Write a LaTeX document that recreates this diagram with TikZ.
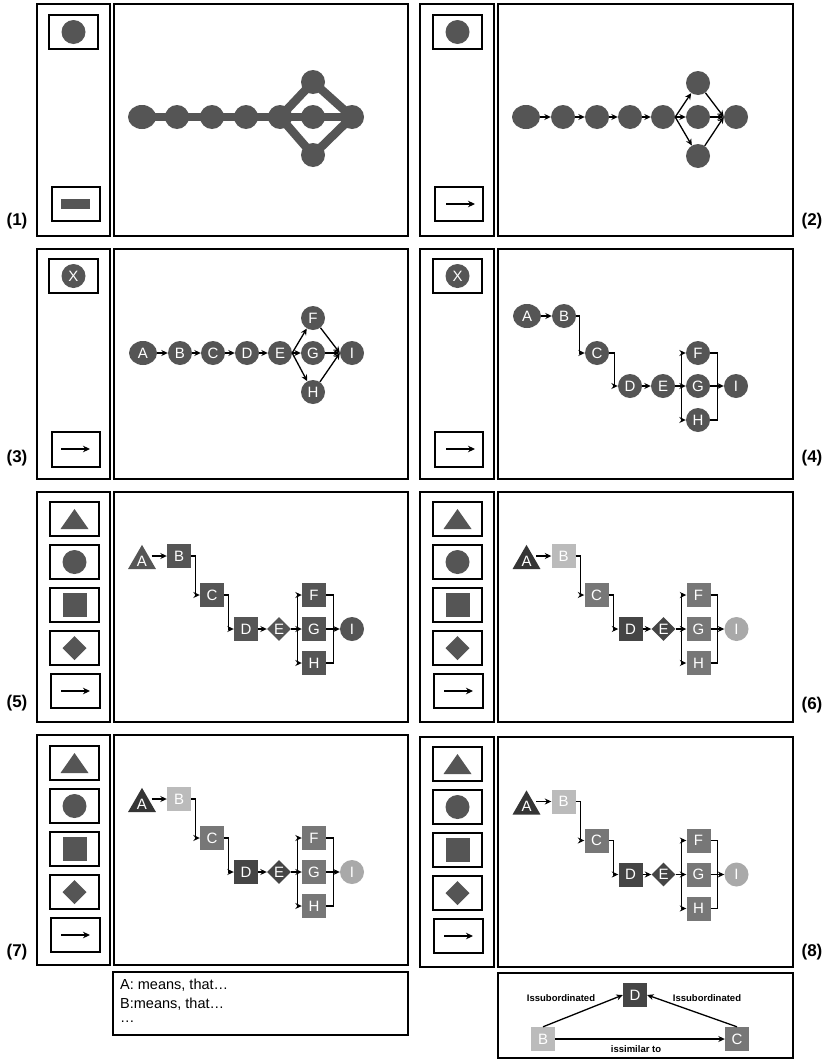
\documentclass[tikz,border=0pt]{standalone}
\usepackage{fontspec}
\setmainfont{Liberation Sans}
\usetikzlibrary{shapes.geometric,arrows.meta,calc}
\definecolor{nd}{HTML}{555555}
\definecolor{dk}{HTML}{353535}
\definecolor{dkb}{HTML}{454545}
\definecolor{md}{HTML}{777777}
\definecolor{lt}{HTML}{BBBBBB}
\definecolor{ltb}{HTML}{A9A9A9}
\pgfdeclarelayer{bgl}
\pgfdeclarelayer{edl}
\pgfsetlayers{bgl,edl,main}
\tikzset{
 frame/.style={draw=black, line width=2.2pt},
 lbl/.style={font=\fontsize{17}{17}\selectfont\bfseries, inner sep=0pt},
 nlab/.style={text=white, font=\fontsize{15}{15}\selectfont, inner sep=0pt},
 cn/.style={circle, fill=nd, minimum size=24pt, nlab},
 en/.style={ellipse, fill=nd, minimum width=28pt, minimum height=24pt, nlab},
 sn/.style={rectangle, fill=nd, minimum size=24pt, nlab},
 dn/.style={diamond, fill=nd, minimum width=24pt, minimum height=24pt, nlab},
 tn/.style={regular polygon, regular polygon sides=3, fill=nd, minimum size=32.3pt, nlab},
 con/.style={line width=1.3pt, -{Stealth[length=6.5pt,width=6pt]}},
 ln/.style={line width=1.3pt},
 icarrow/.style={line width=1.3pt, -{Stealth[length=7pt,width=6.5pt]}},
 thk/.style={line width=8.5pt, draw=nd, line join=round},
}
% five-box legend (x of box left, y of first box top)
\newcommand\fivebox[2]{%
 \foreach \k in {0,1,2,3} {\draw[frame] (#1,{#2+43*\k}) rectangle ({#1+49},{#2+43*\k+34});}
 \draw[frame] ({#1+1},{#2+172}) rectangle ({#1+50},{#2+206});
 \fill[nd] ({#1+24.5},{#2+7}) -- ({#1+38.5},{#2+27}) -- ({#1+10.5},{#2+27}) -- cycle;
 \fill[nd] ({#1+24.5},{#2+60}) circle[radius=12pt];
 \fill[nd] ({#1+12.5},{#2+91}) rectangle ({#1+36.5},{#2+115});
 \fill[nd] ({#1+24.5},{#2+134}) -- ({#1+36.5},{#2+146}) -- ({#1+24.5},{#2+158}) -- ({#1+12.5},{#2+146}) -- cycle;
 \draw[icarrow] ({#1+11},{#2+189}) -- ({#1+40},{#2+189});
}
% flow graph of panels 5-8: suffix, colours A,B,C,D,E,FGH,I
\newcommand\flowgraph[8]{%
 \node[tn, fill=#2] (a#1) at (142,561) {A};
 \node[sn, fill=#3] (b#1) at (179,556) {B};
 \node[sn, fill=#4] (c#1) at (212,595) {C};
 \node[sn, fill=#5] (d#1) at (246,629) {D};
 \node[dn, fill=#6] (e#1) at (279,629) {E};
 \node[sn, fill=#7] (f#1) at (314,595) {F};
 \node[sn, fill=#7] (g#1) at (314,629) {G};
 \node[sn, fill=#7] (h#1) at (314,663) {H};
 \node[cn, fill=#8] (i#1) at (352,629) {I};
 \draw[con] (a#1.east |- b#1.west) -- (b#1.west);
 \draw[con] (b#1.east) -- ++(4.5,0) |- (c#1.west);
 \draw[con] (c#1.east) -- ++(4.5,0) |- (d#1.west);
 \draw[con] (d#1) -- (e#1);
 \coordinate (s#1) at ($(e#1.east)+(6,0)$);
 \draw[ln] (e#1.east) -- (s#1);
 \draw[con] (s#1) |- (f#1.west);
 \draw[con] (s#1) |- (h#1.west);
 \draw[con] (s#1) -- (g#1.west);
 \coordinate (m#1) at ($(g#1.east)+(7,0)$);
 \draw[ln] (f#1.east) -| (m#1);
 \draw[ln] (h#1.east) -| (m#1);
 \draw[con] (g#1) -- (i#1);
}
\begin{document}
\begin{tikzpicture}[x=1pt,y=-1pt]
\begin{pgfonlayer}{bgl}\fill[white] (0,0) rectangle (829,1060);\end{pgfonlayer}
\useasboundingbox (0,0) rectangle (829,1060);

% ---------- panel frames ----------
\draw[frame] (37,4) rectangle (110,236);   \draw[frame] (114,4) rectangle (408,236);
\draw[frame] (420,4) rectangle (494,236);  \draw[frame] (498,4) rectangle (793,236);
\draw[frame] (37,249) rectangle (110,479); \draw[frame] (114,249) rectangle (408,479);
\draw[frame] (420,249) rectangle (494,479);\draw[frame] (498,249) rectangle (793,479);
\draw[frame] (37,492) rectangle (110,722); \draw[frame] (114,492) rectangle (408,722);
\draw[frame] (420,492) rectangle (494,722);\draw[frame] (498,492) rectangle (793,722);
\draw[frame] (37,735) rectangle (110,965); \draw[frame] (114,735) rectangle (408,965);
\draw[frame] (420,737) rectangle (494,967);\draw[frame] (498,737) rectangle (793,967);

% ---------- panel labels ----------
\node[lbl] (l1) at (17,221) {(1)};
\node[lbl] (l2) at (812,221) {(2)};
\node[lbl] (l3) at (17,458) {(3)};
\node[lbl] (l4) at (812,458) {(4)};
\node[lbl] (l5) at (17,703) {(5)};
\node[lbl] (l6) at (812,705) {(6)};
\node[lbl] (l7) at (17,952) {(7)};
\node[lbl] (l8) at (812,952) {(8)};

% ---------- legends rows 1-2 ----------
\draw[frame] (49,15) rectangle (98,49);   \fill[nd] (73.5,32) circle[radius=12pt];
\draw[frame] (52,187) rectangle (100,221); \fill[nd] (61,199) rectangle (90,209);
\draw[frame] (433,15) rectangle (482,49);  \fill[nd] (457.5,32) circle[radius=12pt];
\draw[frame] (435,187) rectangle (483,221); \draw[icarrow] (446,204) -- (475,204);
\draw[frame] (49,259) rectangle (98,293);  \node[cn] (x3) at (73.5,276) {X};
\draw[frame] (52,432) rectangle (100,467); \draw[icarrow] (61,449) -- (90,449);
\draw[frame] (433,259) rectangle (482,293); \node[cn] (x4) at (457.5,276) {X};
\draw[frame] (435,432) rectangle (483,467); \draw[icarrow] (446,449) -- (475,449);

% ---------- legends rows 3-4 ----------
\fivebox{50}{502}
\fivebox{433}{502}
\fivebox{50}{746}
\fivebox{433}{747}

% ---------- panel 1 ----------
\node[en] (a1) at (142,117) {};
\node[cn] (b1) at (177,117) {};
\node[cn] (c1) at (212,117) {};
\node[cn] (d1) at (246,117) {};
\node[cn] (e1) at (280,117) {};
\node[cn] (g1) at (313,117) {};
\node[cn] (i1) at (352,117) {};
\node[cn] (f1) at (313,82) {};
\node[cn] (h1) at (313,155) {};
\begin{pgfonlayer}{edl}
\draw[thk] (a1.center) -- (b1.center) -- (c1.center) -- (d1.center) -- (e1.center) -- (g1.center) -- (i1.center);
\draw[thk] (e1.center) -- (f1.center) -- (i1.center) -- (h1.center) -- cycle;
\end{pgfonlayer}

% ---------- panel 2 ----------
\node[en] (a2) at (526,117) {};
\node[cn] (b2) at (563,117) {};
\node[cn] (c2) at (597,117) {};
\node[cn] (d2) at (630,117) {};
\node[cn] (e2) at (663,117) {};
\node[cn] (g2) at (698,117) {};
\node[cn] (i2) at (736,117) {};
\node[cn] (f2) at (698,83) {};
\node[cn] (h2) at (698,156) {};
\draw[con] (a2) -- (b2); \draw[con] (b2) -- (c2); \draw[con] (c2) -- (d2); \draw[con] (d2) -- (e2);
\draw[con] (e2.east) -- (f2); \draw[con] (e2.east) -- (g2); \draw[con] (e2.east) -- (h2);
\draw[con] (f2) -- (i2.west); \draw[con] (g2) -- (i2); \draw[con] (h2) -- (i2.west);

% ---------- panel 3 ----------
\node[en] (a3) at (143,353) {A};
\node[cn] (b3) at (180,353) {B};
\node[cn] (c3) at (213,353) {C};
\node[cn] (d3) at (247,353) {D};
\node[cn] (e3) at (280,353) {E};
\node[cn] (g3) at (313,353) {G};
\node[cn] (i3) at (352,353) {I};
\node[cn] (f3) at (313,318) {F};
\node[cn] (h3) at (313,392) {H};
\draw[con] (a3) -- (b3); \draw[con] (b3) -- (c3); \draw[con] (c3) -- (d3); \draw[con] (d3) -- (e3);
\draw[con] (e3.east) -- (f3); \draw[con] (e3.east) -- (g3); \draw[con] (e3.east) -- (h3);
\draw[con] (f3) -- (i3.west); \draw[con] (g3) -- (i3); \draw[con] (h3) -- (i3.west);

% ---------- panel 4 ----------
\node[en] (a4) at (527,316) {A};
\node[cn] (b4) at (564,316) {B};
\node[cn] (c4) at (597,353) {C};
\node[cn] (d4) at (630,386) {D};
\node[cn] (e4) at (663,386) {E};
\node[cn] (f4) at (698,353) {F};
\node[cn] (g4) at (698,386) {G};
\node[cn] (h4) at (698,420) {H};
\node[cn] (i4) at (736,386) {I};
\draw[con] (a4) -- (b4);
\draw[con] (b4.east) -- ++(3,0) |- (c4.west);
\draw[con] (c4.east) -- ++(5,0) |- (d4.west);
\draw[con] (d4) -- (e4);
\coordinate (s4) at ($(e4.east)+(6,0)$);
\draw[ln] (e4.east) -- (s4);
\draw[con] (s4) |- (f4.west); \draw[con] (s4) |- (h4.west); \draw[con] (s4) -- (g4.west);
\coordinate (m4) at ($(g4.east)+(7,0)$);
\draw[ln] (f4.east) -| (m4); \draw[ln] (h4.east) -| (m4);
\draw[con] (g4) -- (i4);

% ---------- panels 5-8 ----------
\flowgraph{5}{nd}{nd}{nd}{nd}{nd}{nd}{nd}
\begin{scope}[shift={(384.5,0)}]
\flowgraph{6}{dk}{lt}{md}{dkb}{dkb}{md}{ltb}
\end{scope}
\begin{scope}[shift={(0,243)}]
\flowgraph{7}{dk}{lt}{md}{dkb}{dkb}{md}{ltb}
\end{scope}
\begin{scope}[shift={(384.5,245.5)}]
\flowgraph{8}{dk}{lt}{md}{dkb}{dkb}{md}{ltb}
\end{scope}

% ---------- text box ----------
\draw[frame] (113,972) rectangle (408,1035);
\begin{scope}[every node/.style={anchor=west, inner sep=0pt, font=\fontsize{14.5}{14.5}\selectfont}]
\node (t1) at (120,985) {A: means, that…};
\node (t2) at (120,1004) {B:means, that…};
\node (t3) at (120,1022) {…};
\end{scope}

% ---------- relation box ----------
\draw[frame] (498,973) rectangle (793,1058);
\node[sn, fill=dkb] (rd) at (635,995) {D};
\node[sn, fill=lt] (rb) at (543,1039) {B};
\node[sn, fill=md] (rc) at (737,1039) {C};
\draw[con] (rb.north) -- (rd.west);
\draw[con] (rc.north) -- (rd.east);
\draw[con] (rb.east) -- (rc.west);
\begin{scope}[every node/.style={inner sep=0pt, font=\fontsize{9.5}{9.5}\selectfont\bfseries}]
\node (r1) at (561,998) {Issubordinated};
\node (r2) at (707,998) {Issubordinated};
\node (r3) at (636,1049) {issimilar to};
\end{scope}
\end{tikzpicture}
\end{document}
